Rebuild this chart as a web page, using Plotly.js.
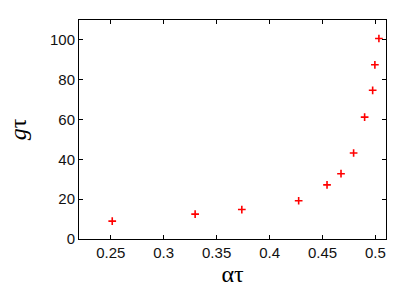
<!DOCTYPE html>
<html>
<head>
<meta charset="utf-8">
<script src="https://cdn.plot.ly/plotly-3.0.1.min.js"></script>
<style>html,body{margin:0;padding:0;background:#fff;}#chart{width:415px;height:291px;}</style>
</head>
<body>
<div id="chart"></div>
<script>
const alphaTau = [0.2514, 0.3297, 0.3738, 0.4275, 0.4543, 0.4675, 0.4794, 0.4898, 0.4974, 0.4995, 0.5033];
const gTau = [9.0, 12.5, 14.8, 19.2, 27.2, 32.8, 43.2, 61.2, 74.7, 87.5, 100.7];
const xTicks = [0.25, 0.3, 0.35, 0.4, 0.45, 0.5];
const xTickLabels = ['0.25', '0.3', '0.35', '0.4', '0.45', '0.5'];
const yTicks = [0, 20, 40, 60, 80, 100];

const trace = {
  x: alphaTau, y: gTau, type: 'scatter', mode: 'markers',
  marker: {symbol: 'cross-thin', size: 5.5, color: 'red', line: {color: 'red', width: 1.6}},
  showlegend: false
};
const axisCommon = {
  showgrid: false, zeroline: false, showline: true, linecolor: '#000', linewidth: 1,
  mirror: 'ticks', ticks: 'inside', ticklen: 4, tickcolor: '#000',
  tickfont: {family: 'Liberation Sans, Arial, sans-serif', size: 15, color: '#111'}
};
const layout = {
  width: 415, height: 291,
  margin: {l: 79, r: 29, t: 19.5, b: 52},
  paper_bgcolor: '#fff', plot_bgcolor: '#fff',
  xaxis: Object.assign({}, axisCommon, {
    range: [0.22, 0.51], tickvals: xTicks, ticktext: xTickLabels,
    title: {text: 'ατ', font: {family: 'Liberation Serif, Times New Roman, serif', size: 24, color: '#000'}, standoff: 2}
  }),
  yaxis: Object.assign({}, axisCommon, {
    range: [0, 110], tickvals: yTicks,
    title: {text: '<i>g</i>τ', font: {family: 'Liberation Serif, Times New Roman, serif', size: 24, color: '#000'}, standoff: 16}
  })
};
Plotly.newPlot('chart', [trace], layout, {displayModeBar: false, staticPlot: true});
</script>
</body>
</html>
